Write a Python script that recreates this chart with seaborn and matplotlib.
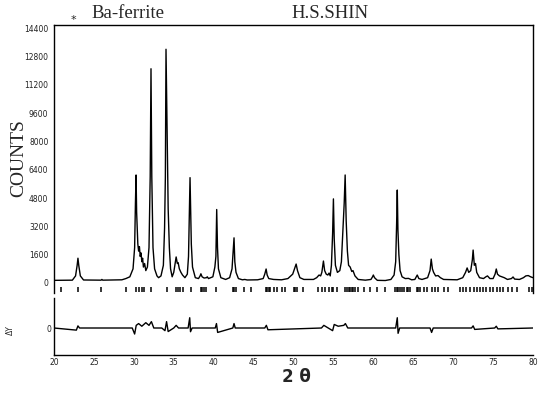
import numpy as np
import pandas as pd
import matplotlib
matplotlib.use("Agg")
import matplotlib.pyplot as plt
import seaborn as sns

two_theta = [20.0, 22.3, 22.7, 22.9, 23.0, 23.1, 23.3, 23.7, 25.9, 26.0, 26.1, 28.5, 29.0, 29.5, 29.9,
             30.1, 30.2, 30.28, 30.35, 30.42, 30.5, 30.6, 30.7, 30.8, 30.9, 31.0, 31.1, 31.2, 31.35, 31.5,
             31.7, 31.9, 32.05, 32.15, 32.25, 32.4, 32.6, 32.9, 33.1, 33.4, 33.7, 33.85, 33.95, 34.03,
             34.15, 34.3, 34.45, 34.6, 34.8, 35.0, 35.2, 35.3, 35.45, 35.55, 35.7, 35.9, 36.1, 36.4, 36.7,
             36.85, 36.95, 37.04, 37.12, 37.2, 37.35, 37.7, 38.1, 38.3, 38.4, 38.55, 38.8, 39.1, 39.2,
             39.35, 39.9, 40.15, 40.28, 40.38, 40.48, 40.6, 40.9, 41.5, 42.0, 42.3, 42.4, 42.55, 42.65,
             42.8, 43.1, 43.6, 43.9, 44.2, 45.5, 46.2, 46.4, 46.57, 46.7, 46.9, 47.5, 48.5, 49.3, 49.9,
             50.2, 50.33, 50.5, 50.8, 51.3, 52.5, 52.9, 53.2, 53.4, 53.55, 53.75, 53.9, 54.1, 54.3, 54.45,
             54.6, 54.75, 54.9, 55.0, 55.1, 55.25, 55.5, 55.8, 56.0, 56.2, 56.35, 56.47, 56.6, 56.75,
             56.9, 57.1, 57.3, 57.45, 57.7, 58.1, 59.0, 59.7, 59.9, 60.0, 60.15, 60.5, 61.5, 62.2, 62.6,
             62.8, 62.92, 63.0, 63.08, 63.2, 63.35, 63.6, 64.0, 64.4, 64.8, 65.2, 65.5, 65.7, 66.1, 66.8,
             67.1, 67.25, 67.4, 67.55, 67.8, 68.1, 68.4, 68.8, 70.5, 71.2, 71.55, 71.75, 71.95, 72.2,
             72.4, 72.5, 72.65, 72.8, 72.95, 73.3, 73.8, 74.1, 74.3, 74.6, 75.0, 75.25, 75.4, 75.55,
             75.8, 76.1, 76.4, 76.8, 77.3, 77.5, 77.7, 78.3, 78.8, 79.1, 79.4, 79.7, 80.0]
counts = [150, 160, 400, 1000, 1400, 1000, 400, 170, 160, 200, 160, 180, 250, 350, 800,
          2000, 4500, 6100, 4000, 3200, 2200, 1800, 2050, 1500, 1700, 1200, 1400, 900, 1100, 700,
          900, 2000, 6000, 12100, 6000, 2000, 800, 400, 300, 400, 1000, 3100, 6000, 13200,
          9000, 4200, 2000, 800, 350, 600, 1200, 1470, 1100, 1150, 800, 600, 450, 300, 500,
          1500, 4000, 5950, 4200, 2200, 900, 300, 250, 400, 520, 350, 280, 300, 350,
          250, 350, 900, 1500, 4150, 2000, 800, 300, 200, 300, 800, 1500, 2550, 1200,
          600, 250, 180, 200, 170, 180, 250, 500, 790, 450, 250, 200, 180, 250, 500,
          900, 1070, 700, 300, 200, 200, 300, 450, 400, 600, 1240, 700, 500, 450, 560,
          400, 1000, 2800, 4750, 2500, 1000, 600, 700, 1200, 3160, 4500, 6100, 3500, 1800,
          1000, 900, 650, 700, 400, 200, 160, 200, 350, 450, 300, 150, 140, 200, 450,
          1200, 3400, 5250, 3000, 1600, 700, 350, 250, 260, 180, 200, 450, 250, 200, 300,
          700, 1350, 800, 600, 400, 420, 300, 200, 180, 300, 600, 850, 600, 700,
          1300, 1860, 1000, 1100, 600, 300, 250, 350, 400, 250, 250, 500, 790, 500,
          400, 350, 300, 200, 250, 340, 220, 200, 300, 400, 420, 350, 300]

# ---- reflection positions (tick row) ----
reflections = [20.9, 23.0, 25.9, 29.0, 30.3, 30.7, 31.0, 31.3, 32.2, 34.1, 35.3, 35.5, 35.8, 36.1,
               37.1, 38.4, 38.6, 38.8, 39.0, 40.35, 42.4, 42.6, 42.8, 43.8, 44.7, 46.5, 46.7, 46.9,
               47.1, 47.5, 47.9, 48.5, 48.95, 50.0, 50.2, 50.4, 51.2, 53.1, 53.55, 53.95, 54.4,
               54.8, 55.0, 55.4, 56.5, 56.7, 56.9, 57.1, 57.3, 57.5, 57.7, 58.1, 58.8, 59.6, 60.4,
               61.5, 62.7, 62.95, 63.15, 63.35, 63.55, 63.8, 64.2, 64.4, 64.6, 65.45, 65.65, 65.85,
               66.3, 66.7, 67.3, 67.75, 68.15, 68.8, 69.4, 70.9, 71.25, 71.6, 72.1, 72.55, 72.95,
               73.4, 73.75, 74.15, 74.65, 75.05, 75.5, 75.9, 76.3, 76.9, 77.35, 78.0, 79.45, 79.85]

# ---- difference curve (2theta, delta counts) ----
diff_theta = [20.0, 22.8, 23.0, 23.2, 29.8, 30.1, 30.3, 30.6, 31.0, 31.5, 31.9, 32.2, 32.5, 33.5,
              33.9, 34.1, 34.3, 35.0, 35.3, 35.6, 36.8, 37.0, 37.1, 37.3, 40.2, 40.35, 40.5, 42.4,
              42.55, 42.7, 46.4, 46.6, 46.8, 53.5, 53.8, 54.9, 55.1, 55.6, 56.3, 56.5, 56.8, 62.8,
              63.0, 63.1, 63.3, 67.1, 67.3, 67.5, 72.3, 72.5, 72.7, 75.2, 75.4, 75.6, 80.0]
diff_counts = [0, -120, 120, 0, 0, -340, 150, 250, 100, 300, 150, 360, 0, 0,
               -150, 360, -200, 0, 150, 0, 0, 580, -210, 0, 0, 250, -250, 0,
               250, 0, 0, 150, -100, 0, 150, -150, 200, 100, 150, 250, 0, 0,
               580, -300, 0, 0, -250, 0, 0, 120, -80, 0, 100, -50, 0]

y_ticks = [0, 1600, 3200, 4800, 6400, 8000, 9600, 11200, 12800, 14400]
x_ticks = [20, 25, 30, 35, 40, 45, 50, 55, 60, 65, 70, 75, 80]

sns.set_style("white")
plt.rcParams["font.family"] = ["DejaVu Sans"]

W, H = 538, 393
fig = plt.figure(figsize=(W / 100, H / 100), dpi=100)
ax1 = fig.add_axes([54 / W, 1 - 293 / H, 479 / W, 268 / H])
ax2 = fig.add_axes([54 / W, 1 - 355 / H, 479 / W, 57 / H])

prof = pd.DataFrame({"tt": two_theta, "c": counts})
sns.lineplot(data=prof, x="tt", y="c", ax=ax1, color="black", lw=1.0,
             estimator=None, sort=False)
ax1.vlines(reflections, -490, -210, color="black", lw=1.1)
ax1.set_xlim(20, 80)
ax1.set_ylim(-565, 14570)
ax1.set_yticks(y_ticks)
ax1.set_yticklabels([str(v) for v in y_ticks])
ax1.set_xticks([])
ax1.set_xlabel("")
ax1.set_ylabel("")
ax1.tick_params(axis="y", labelsize=5.5, colors="#222222", direction="in", length=2, pad=4)
for s in ["top", "left", "right"]:
    ax1.spines[s].set_color("black")
    ax1.spines[s].set_linewidth(1.0)
ax1.spines["bottom"].set_visible(False)

dif = pd.DataFrame({"tt": diff_theta, "d": diff_counts})
sns.lineplot(data=dif, x="tt", y="d", ax=ax2, color="black", lw=1.0,
             estimator=None, sort=False)
ax2.set_xlim(20, 80)
ax2.set_ylim(-1525, 1695)
ax2.set_yticks([0])
ax2.set_yticklabels(["0"])
ax2.set_xticks(x_ticks)
ax2.set_xticklabels([str(v) for v in x_ticks])
ax2.set_xlabel("")
ax2.set_ylabel("")
ax2.tick_params(axis="both", labelsize=5.5, colors="#222222", direction="in", length=2, pad=2)
for s in ["top", "right"]:
    ax2.spines[s].set_visible(False)
for s in ["left", "bottom"]:
    ax2.spines[s].set_color("black")
    ax2.spines[s].set_linewidth(1.0)

serif = ["Liberation Serif", "DejaVu Serif"]
fig.text(18.5 / W, 1 - 158 / H, "COUNTS", rotation=90, ha="center", va="center",
         fontsize=14, family=serif)
fig.text(10 / W, 1 - 330 / H, "ΔY", rotation=90, ha="center", va="center", fontsize=5.5)
fig.text(296 / W, 1 - 377 / H, "2 θ", ha="center", va="center", fontsize=12, fontweight="bold")
fig.text(128 / W, 1 - 14 / H, "Ba-ferrite", ha="center", va="center", fontsize=13.5, family=serif)
fig.text(330 / W, 1 - 13 / H, "H.S.SHIN", ha="center", va="center", fontsize=13.5, family=serif)
fig.text(73 / W, 1 - 20 / H, "*", ha="center", va="center", fontsize=8)

fig.savefig("out.png", dpi=100)
